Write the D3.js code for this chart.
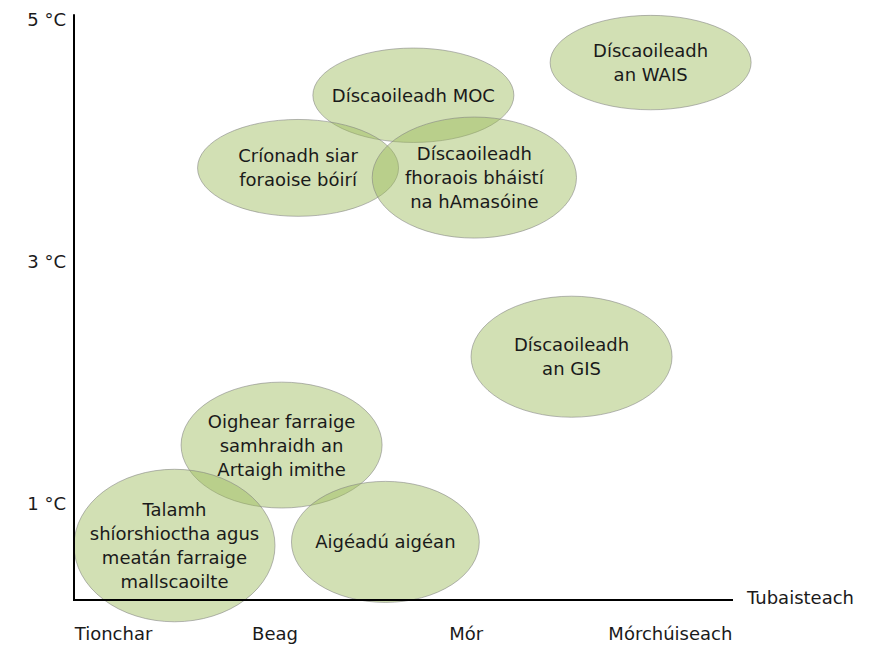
<!DOCTYPE html>
<html>
<head>
<meta charset="utf-8">
<script src="https://cdn.jsdelivr.net/npm/d3@7"></script>
<style>
	body { margin: 0; background: #fff; }
	text { font-family: "DejaVu Sans", Verdana, sans-serif; fill: #1a1a1a; }
</style>
</head>
<body>
<svg id="chart" width="877" height="646"></svg>
<script>

// tick labels
var tempTicks = [1, 3, 5];
var impactLabels = ["Tionchar", "Beag", "Mór", "Mórchúiseach"];
var impactPos = [0.24, 1.22, 2.38, 3.62];
var endLabel = "Tubaisteach";

// tipping elements (x = impact, y = °C, rx/ry = spread)
var names = [
	["Díscaoileadh", "an WAIS"],
	["Díscaoileadh MOC"],
	["Críonadh siar", "foraoise bóirí"],
	["Díscaoileadh", "fhoraois bháistí", "na hAmasóine"],
	["Díscaoileadh", "an GIS"],
	["Oighear farraige", "samhraidh an", "Artaigh imithe"],
	["Talamh", "shíorshioctha agus", "meatán farraige", "mallscaoilte"],
	["Aigéadú aigéan"]
];
var impact = [3.50, 2.06, 1.36, 2.43, 3.02, 1.26, 0.61, 1.89];
var temp   = [4.64, 4.37, 3.77, 3.69, 2.21, 1.48, 0.65, 0.68];
var spreadX = [0.61, 0.61, 0.61, 0.62, 0.61, 0.61, 0.61, 0.57];
var spreadY = [0.39, 0.39, 0.40, 0.50, 0.50, 0.52, 0.63, 0.50];


var svg = d3.select("#chart");
var x = d3.scaleLinear().domain([0, 4]).range([74, 733]);
var y = d3.scaleLinear().domain([0.2, 5]).range([600, 19]);

// ellipses
var items = names.map(function(n, i){
	return {lines: n, x: impact[i], y: temp[i], rx: spreadX[i], ry: spreadY[i]};
});

svg.append("g").selectAll("ellipse")
	.data(items)
	.enter().append("ellipse")
	.attr("cx", function(d){ return x(d.x); })
	.attr("cy", function(d){ return y(d.y); })
	.attr("rx", function(d){ return x(d.rx) - x(0); })
	.attr("ry", function(d){ return y(0.2) - y(0.2 + d.ry); })
	.attr("fill", "#9bbb59")
	.attr("fill-opacity", 0.45)
	.attr("stroke", "#7f7f7f")
	.attr("stroke-opacity", 0.7)
	.attr("stroke-width", 0.8)
	;

// axes
svg.append("line")
	.attr("x1", x(0)).attr("x2", x(0))
	.attr("y1", y(5.04)).attr("y2", y(0.2))
	.attr("stroke", "#000").attr("stroke-width", 2);
svg.append("line")
	.attr("x1", x(0) - 1).attr("x2", x(4))
	.attr("y1", y(0.2)).attr("y2", y(0.2))
	.attr("stroke", "#000").attr("stroke-width", 2);

// labels inside ellipses
var lh = 24;
items.forEach(function(d){
	var t = svg.append("text")
		.attr("text-anchor", "middle")
		.attr("font-size", 18);
	var n = d.lines.length;
	d.lines.forEach(function(s, j){
		t.append("tspan")
			.attr("x", x(d.x))
			.attr("y", y(d.y) + (j - (n - 1) / 2) * lh + 6.5)
			.text(s);
	});
});

// y tick labels
svg.append("g").selectAll("text")
	.data(tempTicks)
	.enter().append("text")
	.attr("x", 66)
	.attr("y", function(d){ return y(d) + 7; })
	.attr("text-anchor", "end")
	.attr("font-size", 18)
	.text(function(d){ return d + " °C"; })
	;

// x labels
svg.append("g").selectAll("text")
	.data(impactLabels)
	.enter().append("text")
	.attr("x", function(d, i){ return x(impactPos[i]); })
	.attr("y", 640)
	.attr("text-anchor", "middle")
	.attr("font-size", 18)
	.text(function(d){ return d; })
	;
svg.append("text")
	.attr("x", 747)
	.attr("y", y(0.2) + 4)
	.attr("font-size", 18)
	.text(endLabel);

</script>
</body>
</html>
